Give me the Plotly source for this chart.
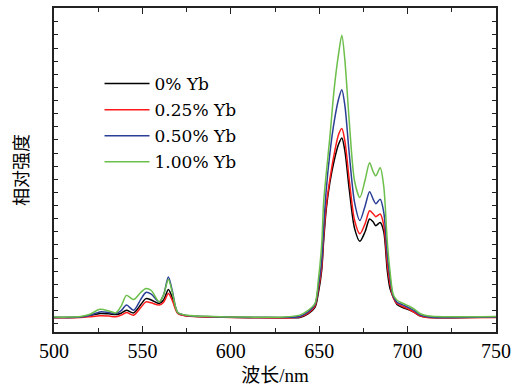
import plotly.graph_objects as go

# Wavelength grid (nm) and relative intensity of each sample (arbitrary units)
wavelength = [500, 508, 515, 520, 526, 531, 535, 538, 541, 545, 549, 552, 555, 559.5, 562, 564.7,
               567, 570, 575, 590, 610, 630, 639, 643.7, 647.6, 649.5, 651.4, 652.5, 654, 656,
               658.5, 661, 662.8, 664.5, 667, 670, 673, 676, 678.5, 680.5, 682, 684.5, 686.5,
               688.5, 690, 691.9, 694, 697.5, 701.4, 704, 707, 711, 716, 725, 750]

yb_0 = [4.5, 4.5, 4.6, 5.0, 5.7, 5.6, 5.4, 5.8, 6.7, 5.9, 8.4, 10.3, 9.9, 8.8, 9.9, 13.1,
        10.5, 5.9, 5.0, 4.7, 4.5, 4.4, 4.5, 5.6, 7.6, 12.0, 19.0, 28.0, 38.0, 46.0,
        53.0, 58.0, 59.9, 56.0, 44.0, 32.0, 28.0, 31.0, 34.9, 34.0, 32.8, 33.8, 31.0,
        19.0, 13.5, 10.8, 8.5, 7.5, 6.7, 6.0, 5.0, 4.6, 4.4, 4.4, 4.6]

yb_025 = [4.4, 4.4, 4.5, 4.7, 5.0, 4.9, 4.7, 5.2, 6.0, 5.2, 7.5, 9.3, 9.0, 8.3, 9.2, 11.9,
          9.6, 5.7, 4.9, 4.6, 4.4, 4.3, 4.6, 5.8, 8.0, 13.0, 20.0, 29.5, 39.0, 47.0,
          55.0, 61.0, 62.8, 59.0, 47.0, 34.5, 30.3, 33.5, 37.4, 36.5, 35.6, 36.4, 33.0,
          21.0, 15.0, 10.5, 8.8, 7.8, 6.8, 6.0, 5.0, 4.5, 4.4, 4.4, 4.5]

yb_050 = [4.5, 4.5, 4.6, 5.1, 6.2, 6.0, 5.7, 6.6, 8.3, 6.7, 10.0, 12.2, 11.7, 9.3, 11.5, 17.0,
          12.5, 6.0, 5.1, 4.7, 4.5, 4.5, 4.8, 6.2, 8.5, 14.0, 22.0, 32.0, 44.0, 55.0,
          65.0, 72.0, 74.8, 70.0, 55.0, 40.0, 34.4, 39.0, 43.3, 41.0, 39.6, 41.0, 37.0,
          24.0, 17.0, 11.0, 9.2, 8.3, 7.3, 6.5, 5.3, 4.7, 4.5, 4.5, 4.6]

yb_100 = [4.6, 4.6, 4.8, 5.4, 7.0, 6.5, 5.9, 8.0, 11.3, 10.0, 12.2, 13.4, 12.8, 9.3, 11.5, 16.2,
          12.0, 6.0, 5.2, 4.8, 4.6, 4.6, 5.2, 6.7, 8.8, 16.0, 27.0, 40.0, 49.0, 60.0,
          75.2, 86.0, 91.6, 84.0, 65.0, 46.6, 41.5, 47.0, 52.2, 49.5, 48.2, 50.7, 45.0,
          28.0, 19.0, 11.5, 9.8, 8.8, 7.8, 7.0, 5.7, 5.0, 4.8, 4.7, 4.8]

series_names = ["0% Yb", "0.25% Yb", "0.50% Yb", "1.00% Yb"]
series_values = [yb_0, yb_025, yb_050, yb_100]
series_colors = ["#000000", "#ff1a1a", "#2c3f96", "#6cbf4a"]

x_ticks = [500, 550, 600, 650, 700, 750]

SERIF = "Liberation Serif, Noto Sans CJK SC, serif"
LEGEND_FONT = "DejaVu Serif, Liberation Serif, serif"

fig = go.Figure()
for name, vals, col in zip(series_names, series_values, series_colors):
    fig.add_trace(go.Scatter(
        x=wavelength, y=vals, mode="lines", name=name, legendgroup=name,
        line=dict(color=col, width=1.5, shape="spline", smoothing=0.8),
    ))

fig.update_layout(
    width=518, height=392,
    margin=dict(l=54, r=22, t=6, b=60),
    paper_bgcolor="white", plot_bgcolor="white",
    font=dict(family=SERIF, size=19, color="black"),
    showlegend=True,
    legend=dict(
        x=0.103, y=0.821, xanchor="left", yanchor="top",
        bgcolor="rgba(0,0,0,0)", borderwidth=0,
        font=dict(family=LEGEND_FONT, size=17, color="black"),
        tracegroupgap=1, itemwidth=45,
    ),
)

fig.update_xaxes(
    range=[500, 750], tickvals=x_ticks, ticktext=[str(v) for v in x_ticks],
    ticks="inside", ticklen=6, tickwidth=1.2, tickcolor="#222",
    minor=dict(ticks="inside", dtick=25, tick0=500, ticklen=4, tickwidth=1.2, tickcolor="#222"),
    showline=True, linecolor="#222", linewidth=1.6, mirror="ticks",
    showgrid=False, zeroline=False,
    tickfont=dict(family=SERIF, size=20),
    title=dict(text="波长/nm", font=dict(family=SERIF, size=19), standoff=8),
)

fig.update_yaxes(
    range=[0, 100], tick0=2.58, dtick=4.05,
    ticks="inside", ticklen=4, tickwidth=1.2, tickcolor="#222",
    showticklabels=False,
    showline=True, linecolor="#222", linewidth=1.6, mirror="ticks",
    showgrid=False, zeroline=False,
    title=dict(text="相对强度", font=dict(family=SERIF, size=18), standoff=19),
)

fig.write_html(
    "out.html",
    config={"displayModeBar": False},
    post_script="document.body.style.margin='0';document.body.style.overflow='hidden';",
)
